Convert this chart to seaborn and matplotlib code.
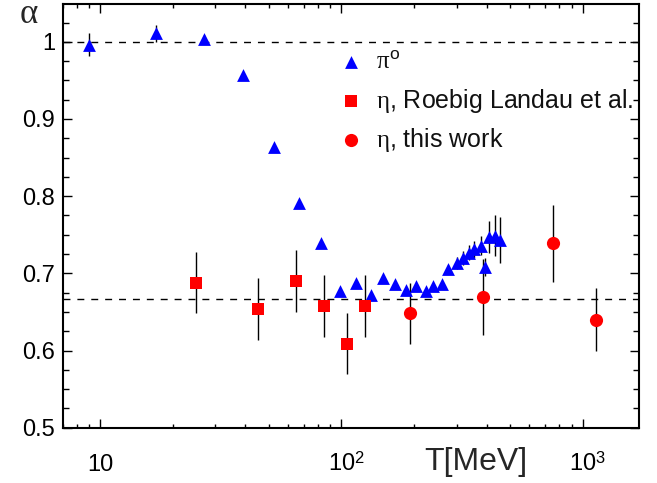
import numpy as np
import matplotlib
matplotlib.use("Agg")
import matplotlib.pyplot as plt
import matplotlib.ticker as mticker
import matplotlib.transforms as mtransforms
import seaborn as sns

# ---- data ----
pi0_T = [9.0, 17.1, 27.0, 39.1, 52.4, 66.7, 82.2, 98.6, 114.8, 132.4, 149, 167.5,
         184.9, 203.6, 223.2, 240, 260, 277.7, 300, 317.6, 336.3, 354.9, 377,
         392.5, 409, 432, 453]
pi0_alpha = [0.996, 1.011, 1.004, 0.957, 0.864, 0.791, 0.739, 0.677, 0.688, 0.672,
             0.694, 0.686, 0.679, 0.684, 0.677, 0.683, 0.686, 0.705, 0.713, 0.720,
             0.727, 0.731, 0.736, 0.708, 0.747, 0.749, 0.743]
pi0_err = [0.015, 0.011, 0.005, 0.003, 0.003, 0.003, 0.003, 0.003, 0.003, 0.003,
           0.003, 0.003, 0.003, 0.003, 0.003, 0.003, 0.003, 0.006, 0.008, 0.009,
           0.010, 0.011, 0.012, 0.012, 0.021, 0.027, 0.030]

eta_rl_T = [25, 45, 65, 85, 105, 125]
eta_rl_alpha = [0.688, 0.654, 0.690, 0.658, 0.609, 0.658]
eta_rl_err = [0.040, 0.040, 0.040, 0.040, 0.040, 0.040]

eta_tw_T = [193, 385, 750, 1130]
eta_tw_alpha = [0.648, 0.669, 0.739, 0.640]
eta_tw_err = [0.040, 0.049, 0.050, 0.041]

ref_levels = [1.0, 2.0 / 3.0]
x_major = [10, 100, 1000]
x_major_labels = ["10", r"$\mathsf{10}^{\mathsf{2}}$", r"$\mathsf{10}^{\mathsf{3}}$"]
legend_labels = [r"$\pi^{\mathsf{o}}$", r"$\eta$, Roebig Landau et al.", r"$\eta$, this work"]

# ---- style ----
sns.set_style("ticks")
plt.rcParams["font.family"] = ["Liberation Sans", "DejaVu Sans"]
plt.rcParams.update({
    "mathtext.fontset": "custom",
    "mathtext.rm": "Liberation Sans",
    "mathtext.it": "Liberation Serif",
    "mathtext.sf": "Liberation Sans",
    "mathtext.bf": "Liberation Sans:bold",
    "axes.edgecolor": "black",
    "xtick.color": "black",
    "ytick.color": "black",
    "text.color": "#111111",
})

fig = plt.figure(figsize=(6.57, 4.83), dpi=100)
ax = fig.add_axes([0.0954, 0.1145, 0.8772, 0.8772])

for lv in ref_levels:
    ax.axhline(lv, color="black", lw=1.0, ls=(0, (5, 5)), zorder=1)

ax.errorbar(pi0_T, pi0_alpha, yerr=pi0_err, fmt="none", ecolor="black", elinewidth=1.0, capsize=0, zorder=2)
ax.errorbar(eta_rl_T, eta_rl_alpha, yerr=eta_rl_err, fmt="none", ecolor="black", elinewidth=1.0, capsize=0, zorder=2)
ax.errorbar(eta_tw_T, eta_tw_alpha, yerr=eta_tw_err, fmt="none", ecolor="black", elinewidth=1.0, capsize=0, zorder=2)

sns.scatterplot(x=pi0_T, y=pi0_alpha, marker="^", color="#0000ff", s=85, linewidth=0,
                label=legend_labels[0], ax=ax, zorder=3)
sns.scatterplot(x=eta_rl_T, y=eta_rl_alpha, marker="s", color="#ff0000", s=80, linewidth=0,
                label=legend_labels[1], ax=ax, zorder=3)
sns.scatterplot(x=eta_tw_T, y=eta_tw_alpha, marker="o", color="#ff0000", s=90, linewidth=0,
                label=legend_labels[2], ax=ax, zorder=3)

ax.set_xscale("log")
ax.set_xlim(7.0, 1710)
ax.set_ylim(0.5, 1.049)

ax.yaxis.set_major_locator(mticker.MultipleLocator(0.1))
ax.yaxis.set_minor_locator(mticker.MultipleLocator(0.025))
ax.yaxis.set_major_formatter(mticker.FuncFormatter(lambda v, p: "%g" % round(v, 3)))

ax.set_xticks(x_major)
ax.set_xticklabels(x_major_labels)
ax.xaxis.set_minor_locator(mticker.LogLocator(base=10, subs=np.arange(2, 10)))
ax.xaxis.set_minor_formatter(mticker.NullFormatter())

for sp in ax.spines.values():
    sp.set_linewidth(1.5)
    sp.set_color("black")

ax.tick_params(axis="both", which="both", direction="in", top=True, right=True, width=1.0, labelsize=17)
ax.tick_params(axis="x", which="major", length=6.5, pad=31)
ax.tick_params(axis="x", which="minor", length=3.2)
ax.tick_params(axis="y", which="major", length=6.5, pad=5.5)
ax.tick_params(axis="y", which="minor", length=4.0)

for i, lbl in enumerate(ax.get_xticklabels()):
    lbl.set_va("baseline")
    if i > 0:
        lbl.set_transform(lbl.get_transform() + mtransforms.ScaledTranslation(0.05, 0, fig.dpi_scale_trans))

ax.set_xlabel("T[MeV]", fontsize=23)
ax.xaxis.set_label_coords(0.717, -0.0998)
ax.xaxis.label.set_va("baseline")

ax.set_ylabel(r"$\alpha$", rotation=0, fontsize=25)
ax.yaxis.set_label_coords(-0.0593, 0.956)
ax.yaxis.label.set_va("baseline")
ax.yaxis.label.set_ha("center")

ax.legend(loc="upper left", bbox_to_anchor=(0.4786, 0.910), frameon=False, fontsize=18,
          handlelength=1.0, handleheight=2.0, labelspacing=0.0, handletextpad=0.5,
          borderpad=0, borderaxespad=0, scatteryoffsets=[0.18])

fig.savefig("out.png", dpi=100)
